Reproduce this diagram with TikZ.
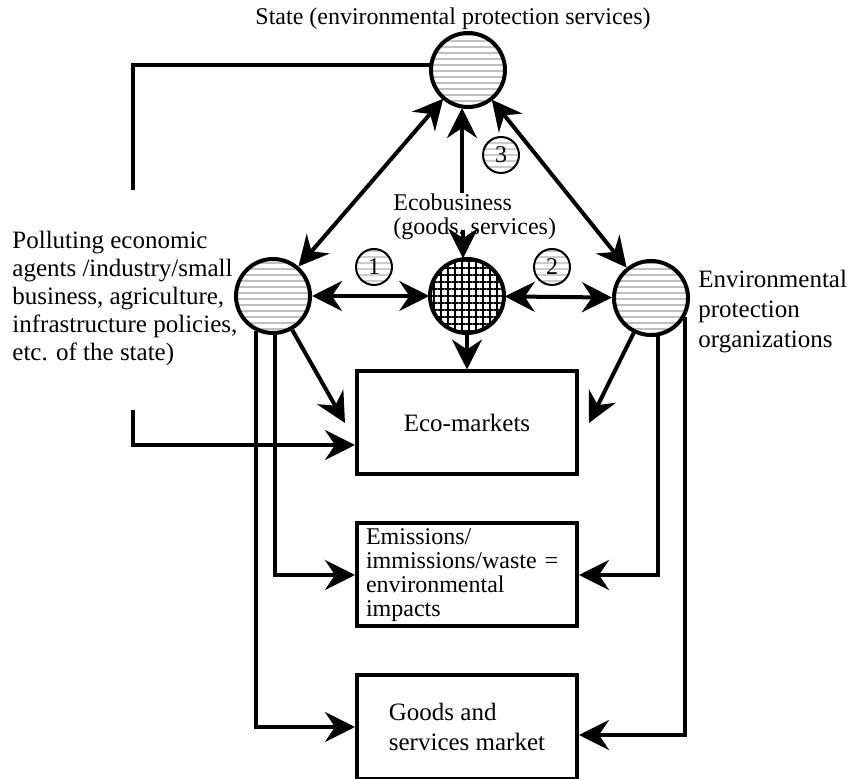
\documentclass[tikz,border=0pt]{standalone}
\usepackage{fontspec}
\setmainfont{Liberation Serif}
\usetikzlibrary{arrows.meta,patterns.meta}

\tikzset{
  agent/.style={draw,circle,line width=2pt,minimum size=37pt,inner sep=0pt,
    pattern={Lines[distance=3pt,line width=1pt]},pattern color=black!25},
  hub/.style={draw,circle,line width=2pt,minimum size=37pt,inner sep=0pt,
    pattern={Hatch[angle=0,distance=3.5pt,line width=0.7pt]}},
  num/.style={draw,circle,line width=1pt,minimum size=18pt,inner sep=0pt,
    pattern={Lines[distance=3pt,line width=1pt]},pattern color=black!20,
    font=\fontsize{12}{12}\selectfont},
  market/.style={draw,line width=2pt,minimum width=110pt,minimum height=51.5pt,
    font=\fontsize{12.5}{12}\selectfont},
  lbl/.style={align=left,inner sep=0pt,font=\fontsize{12.5}{14}\selectfont},
  conn/.style={line width=2pt},
  arr/.style={conn,-{Stealth[length=15pt,width=15pt,inset=5pt]}},
  biarr/.style={conn,{Stealth[length=15pt,width=15pt,inset=5pt]}-{Stealth[length=15pt,width=15pt,inset=5pt]}}
}

\begin{document}
\begin{tikzpicture}[x=0.5pt,y=-0.5pt]
  \useasboundingbox (0,0) rectangle (851,779);

  % actors
  \node[agent] (state) at (468,70) {};
  \node[agent] (poll) at (273,296) {};
  \node[hub] (hub) at (467,296) {};
  \node[agent] (org) at (651,298) {};

  \node[num] (n1) at (374,267) {1};
  \node[num] (n2) at (552,267) {2};
  \node[num] (n3) at (501,155) {3};

  % labels
  \node[lbl,anchor=base,font=\fontsize{12}{14}\selectfont] (stateLbl) at (453,25) {State (environmental protection services)};
  \node[lbl,anchor=north west] (pollLbl) at (12,231) {Polluting economic\\agents /industry/small\\business, agriculture,\\infrastructure policies,\\etc. of the state)};
  \node[lbl,anchor=north west,font=\fontsize{12.5}{15}\selectfont] (orgLbl) at (698,270) {Environmental\\protection\\organizations};
  \node[lbl,anchor=north west,font=\fontsize{12}{12}\selectfont] (eco) at (393,193) {Ecobusiness\\(goods, services)};

  % markets
  \node[market] (ecomkt) at (467,423) {Eco-markets};
  \node[market,align=left,text width=101pt,inner xsep=4.5pt,inner ysep=1pt,font=\fontsize{12}{12}\selectfont] (emis) at (467,575) {Emissions/\\immissions/waste =\\environmental\\impacts};
  \node[market,align=left,font=\fontsize{12.5}{15}\selectfont] (goods) at (467,727) {Goods and\\services market};

  % relations
  \draw[biarr] (poll) -- (state);
  \draw[biarr] (org) -- (state);
  \draw[biarr] (poll) -- (hub);
  \draw[biarr] (hub) -- (org);
  \draw[arr] (hub) -- (ecomkt);
  \draw[arr] ([xshift=-3pt]state.south |- eco.north) -- ([xshift=-3pt]state.south);
  \draw[arr] ([xshift=-2pt,yshift=5pt]hub.north |- eco.south) -- ([xshift=-2pt]hub.north);
  \draw[arr] (poll) -- ([xshift=-5pt]ecomkt.west);
  \draw[arr] (org) -- ([xshift=5pt]ecomkt.east);
  \draw[arr] (poll.-87) |- (emis.west);
  \draw[arr] (poll.-116) |- (goods.west);
  \draw[arr] (org.-79) |- (emis.east);
  \draw[arr] (org.-30) |- ([yshift=-4pt]goods.east);

  \coordinate (brkTop) at (133,190);
  \coordinate (brkBot) at (133,410);
  \draw[conn] (state.172) -| (brkTop);
  \draw[arr] (brkBot) |- ([yshift=-11pt]ecomkt.west);
\end{tikzpicture}
\end{document}
